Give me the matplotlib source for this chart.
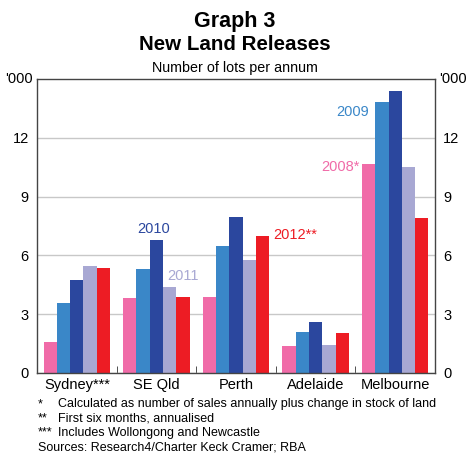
import matplotlib
matplotlib.use('Agg')
import matplotlib.pyplot as plt
import numpy as np

plt.rcParams['font.family'] = ['Liberation Sans', 'DejaVu Sans']

regions = ['Sydney***', 'SE Qld', 'Perth', 'Adelaide', 'Melbourne']
years = ['2008*', '2009', '2010', '2011', '2012**']
lots_2008 = [1.58, 3.80, 3.88, 1.35, 10.66]
lots_2009 = [3.58, 5.29, 6.46, 2.08, 13.82]
lots_2010 = [4.73, 6.81, 7.98, 2.57, 14.41]
lots_2011 = [5.44, 4.36, 5.75, 1.41, 10.53]
lots_2012 = [5.36, 3.85, 6.98, 2.01, 7.90]
series = [lots_2008, lots_2009, lots_2010, lots_2011, lots_2012]
colours = ['#f06ba8', '#3a87c8', '#2b479e', '#a8a8d3', '#ed1c24']
yticks = [0, 3, 6, 9, 12]

fig = plt.figure(figsize=(4.7, 4.61), dpi=100)
ax = fig.add_axes([0.0787, 0.1915, 0.8468, 0.6365])

x = np.arange(len(regions))
width = 0.167
for i, (vals, col) in enumerate(zip(series, colours)):
    ax.bar(x + (i - 2) * width, vals, width, color=col, zorder=2)

ax.set_xlim(-0.5, len(regions) - 0.5)
ax.set_ylim(0, 15)
ax.set_yticks(yticks)
ax.yaxis.grid(True, color='#c8c8c8', linewidth=1, zorder=0)
ax.tick_params(axis='y', which='both', direction='in', length=0,
               labelsize=10.5, right=True, labelright=True, pad=6)
ax.set_xticks(x)
ax.set_xticklabels(regions, fontsize=10.5)
ax.tick_params(axis='x', which='major', length=0, pad=4)
ax.set_xticks(np.arange(0.5, len(regions) - 0.5), minor=True)
ax.tick_params(axis='x', which='minor', direction='in', length=5, color='#333333')
for s in ax.spines.values():
    s.set_color('#444444')
    s.set_linewidth(1)

ax.text(-0.01, 15, "'000", transform=ax.get_yaxis_transform(), ha='right',
        va='center', fontsize=10.5)
ax.text(1.01, 15, "'000", transform=ax.get_yaxis_transform(), ha='left',
        va='center', fontsize=10.5)

# series labels
ax.text(0.96, 7.36, '2010', color=colours[2], ha='center', va='center', fontsize=10.5)
ax.text(1.33, 4.92, '2011', color=colours[3], ha='center', va='center', fontsize=10.5)
ax.text(2.74, 7.06, '2012**', color=colours[4], ha='center', va='center', fontsize=10.5)
ax.text(3.47, 13.35, '2009', color=colours[1], ha='center', va='center', fontsize=10.5)
ax.text(3.31, 10.5, '2008*', color=colours[0], ha='center', va='center', fontsize=10.5)

fig.text(0.5, 1 - 21 / 461, 'Graph 3', ha='center', va='center',
         fontsize=15.5, fontweight='bold')
fig.text(0.5, 1 - 45 / 461, 'New Land Releases', ha='center', va='center',
         fontsize=14.8, fontweight='bold')
fig.text(0.5, 1 - 68 / 461, 'Number of lots per annum', ha='center',
         va='center', fontsize=10.25)

notes = [('*', 'Calculated as number of sales annually plus change in stock of land'),
         ('**', 'First six months, annualised'),
         ('***', 'Includes Wollongong and Newcastle')]
for k, (mark, txt) in enumerate(notes):
    yy = 1 - (404 + 14.3 * k) / 461
    fig.text(38 / 470, yy, mark, ha='left', va='center', fontsize=9)
    fig.text(58 / 470, yy, txt, ha='left', va='center', fontsize=9)
fig.text(38 / 470, 1 - 447 / 461, 'Sources: Research4/Charter Keck Cramer; RBA',
         ha='left', va='center', fontsize=9)

fig.savefig('out.png', dpi=100)
